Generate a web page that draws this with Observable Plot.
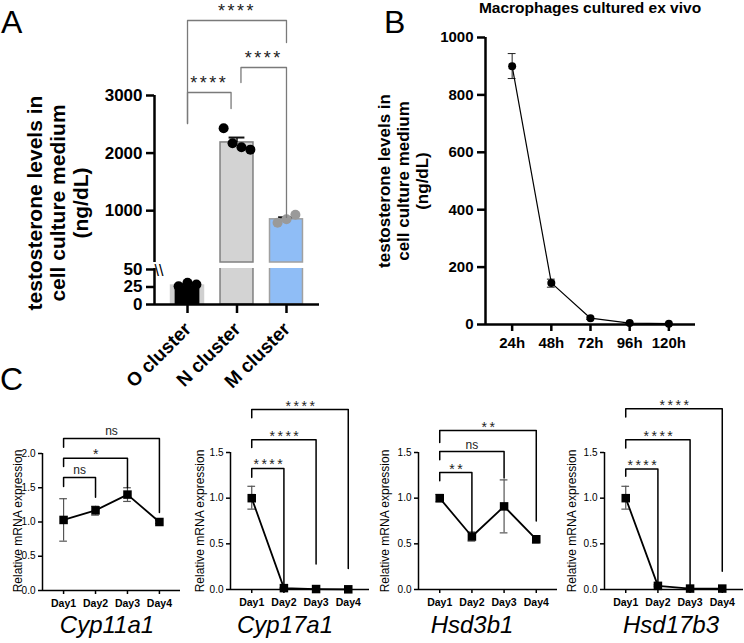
<!DOCTYPE html>
<html><head><meta charset="utf-8">
<script src="https://cdn.jsdelivr.net/npm/d3@7"></script>
<script src="https://cdn.jsdelivr.net/npm/@observablehq/plot@0.6"></script>
<style>
body{margin:0;background:#fff;}
#root{position:relative;width:744px;height:643px;overflow:hidden;background:#fff;}
#root > svg{position:absolute;}
</style></head><body><div id="root"></div>
<script>
// ---------- DATA ----------
// Panel A
const clusters = ["O cluster", "N cluster", "M cluster"];
const clusterMeans = [27, 2185, 850];
const clusterSEM = [2, 85, 35];
const oPoints = [26, 31, 28.5];
const nPoints = [2430, 2170, 2100, 2060];
const mPoints = [790, 850, 930];
const aSig = ["****", "****", "****"];
const aUpperTicks = [1000, 2000, 3000];
const aLowerTicks = [0, 25, 50];

// Panel B
const hours = ["24h", "48h", "72h", "96h", "120h"];
const macroMean = [900, 145, 22, 5, 3];
const macroLo = [857, 130, 18, 3, 2];
const macroHi = [944, 158, 26, 7, 4];
const bTicks = [0, 200, 400, 600, 800, 1000];

// Panel C
const days = ["Day1", "Day2", "Day3", "Day4"];
const genes = ["Cyp11a1", "Cyp17a1", "Hsd3b1", "Hsd17b3"];
const cyp11a1Mean = [1.03, 1.17, 1.40, 1.00];
const cyp11a1Lo = [0.72, 1.10, 1.30, 0.98];
const cyp11a1Hi = [1.34, 1.23, 1.50, 1.02];
const cyp17a1Mean = [1.00, 0.015, 0.005, 0.002];
const cyp17a1Lo = [0.88, 0.01, 0.0, 0.0];
const cyp17a1Hi = [1.13, 0.02, 0.01, 0.005];
const hsd3b1Mean = [1.00, 0.58, 0.91, 0.55];
const hsd3b1Lo = [0.96, 0.53, 0.62, 0.51];
const hsd3b1Hi = [1.04, 0.63, 1.20, 0.59];
const hsd17b3Mean = [1.00, 0.04, 0.01, 0.01];
const hsd17b3Lo = [0.88, 0.03, 0.005, 0.005];
const hsd17b3Hi = [1.13, 0.05, 0.015, 0.015];
const cyp11a1Sig = ["ns", "*", "ns"];
const cyp17a1Sig = ["****", "****", "****"];
const hsd3b1Sig = ["**", "ns", "**"];
const hsd17b3Sig = ["****", "****", "****"];

// ---------- STYLE / LAYOUT ----------
const FONT = '"Liberation Sans", Arial, Helvetica, sans-serif';
const barFill = ["#000000", "#d3d3d3", "#8fbdf6"];
const barStroke = ["#d0d0d0", "#808080", "#a0a0a0"];
const dotFill = ["#000000", "#000000", "#9a9a9a"];
const intFmt = d3.format("d");
const root = document.getElementById("root");
function place(svg, left, top) {
  svg.style.left = left + "px"; svg.style.top = top + "px";
  root.appendChild(svg);
  d3.select(svg).selectAll("text").filter(function(){ return /^\*+$/.test(this.textContent); })
    .style("letter-spacing", "2.5px");
  return svg;
}
const baseStyle = {background: "transparent", overflow: "visible", fontFamily: FONT, color: "#000"};

// ---------- PANEL A ----------
const A_xDomain = [-0.667, 2.667];
const upperDomain = [100, 3000];
const lowerDomain = [0, 51.4];
const barHalf = 0.333;
const bars = clusters.map((c, i) => ({i, v: clusterMeans[i], sem: clusterSEM[i]}));
const pts = [oPoints, nPoints, mPoints].flatMap((arr, i) =>
  arr.map((v, j) => ({i, v, x: i + (j - (arr.length - 1) / 2) * 0.18})));
// bracket layout (annotation geometry in data units of upper segment)
const aBrackets = [
  {a: 0, b: 0.88, top: 3052, left: 2514, right: 2774},
  {a: 1.08, b: 2, top: 3486, left: 3226, right: 882},
  {a: 0, b: 2, top: 4302, left: 2514, right: 3920}
];
const aBracketPts = aBrackets.flatMap((b, k) => [
  {k, x: b.a, y: b.left}, {k, x: b.a, y: b.top}, {k, x: b.b, y: b.top}, {k, x: b.b, y: b.right}]);

const upperBars = bars.filter(d => d.v > upperDomain[0]);
const upper = Plot.plot({
  width: 330, height: 262, marginLeft: 154, marginRight: 11, marginTop: 95, marginBottom: 0,
  style: baseStyle,
  x: {domain: A_xDomain, axis: null, label: null},
  y: {domain: upperDomain, label: null},
  color: {type: "identity"},
  marks: [
    Plot.rectY(upperBars, {x1: d => d.i - barHalf, x2: d => d.i + barHalf, y1: upperDomain[0], y2: "v",
      fill: d => barFill[d.i], stroke: d => barStroke[d.i], strokeWidth: 1.5}),
    Plot.ruleX(upperBars, {x: "i", y1: "v", y2: d => d.v + d.sem, stroke: "#111", strokeWidth: 1.5}),
    Plot.ruleY(upperBars, {y: d => d.v + d.sem, x1: d => d.i - 0.16, x2: d => d.i + 0.16, stroke: "#111", strokeWidth: 2}),
    Plot.dot(pts.filter(d => d.v > upperDomain[0]), {x: "x", y: "v", r: 5, fill: d => dotFill[d.i]}),
    Plot.line(aBracketPts, {x: "x", y: "y", z: "k", stroke: "#7a7a7a", strokeWidth: 1.3}),
    Plot.text(aBrackets, {x: d => (d.a + d.b) / 2, y: "top", text: (d, k) => aSig[k], lineAnchor: "bottom", dy: -4,
      fontSize: 18, fill: "#222"}),
    Plot.ruleX([A_xDomain[0]], {y1: upperDomain[0], y2: 3000, strokeWidth: 2.5}),
    Plot.axisY({ticks: aUpperTicks, tickFormat: intFmt, tickSize: 8, tickPadding: 4, fontSize: 17, fontWeight: "bold", strokeWidth: 2.5, label: null})
  ]
});
place(upper, 0, 0);

const lower = Plot.plot({
  width: 330, height: 142, marginLeft: 154, marginRight: 11, marginTop: 6, marginBottom: 100,
  style: baseStyle,
  x: {domain: A_xDomain, label: null},
  y: {domain: lowerDomain, label: null},
  color: {type: "identity"},
  marks: [
    Plot.rectY(bars, {x1: d => d.i - barHalf, x2: d => d.i + barHalf, y1: 0, y2: "v", clip: true,
      fill: d => d.i === 0 ? barStroke[0] : barFill[d.i], stroke: d => barStroke[d.i], strokeWidth: 1.5}),
    Plot.rectY(bars.filter(d => d.i === 0), {x1: d => d.i - 0.25, x2: d => d.i + 0.25, y1: 0, y2: "v", fill: barFill[0]}),
    Plot.ruleX(bars.filter(d => d.v < lowerDomain[1]), {x: "i", y1: "v", y2: d => d.v + d.sem, stroke: "#111", strokeWidth: 1.5}),
    Plot.ruleY(bars.filter(d => d.v < lowerDomain[1]), {y: d => d.v + d.sem, x1: d => d.i - 0.16, x2: d => d.i + 0.16, stroke: "#111", strokeWidth: 2}),
    Plot.dot(pts.filter(d => d.v < lowerDomain[1]), {x: "x", y: "v", r: 5, fill: d => dotFill[d.i]}),
    Plot.ruleX([A_xDomain[0]], {y1: 0, y2: lowerDomain[1], strokeWidth: 2.5}),
    Plot.ruleY([0], {strokeWidth: 2.5}),
    Plot.text(["\\\\"], {text: d => d, frameAnchor: "top-left", dx: 0, dy: -4, fontSize: 16, fill: "#000"}),
    Plot.axisY({ticks: aLowerTicks, tickFormat: intFmt, tickSize: 8, tickPadding: 4, fontSize: 17, fontWeight: "bold", strokeWidth: 2.5, label: null}),
    Plot.axisX({ticks: [0, 1, 2], tickFormat: () => "", tickSize: 9, strokeWidth: 2.5, label: null})
  ]
});
place(lower, 0, 262);

// ---------- PANEL B ----------
const B_xDomain = [-0.68, 4.68];
const macro = hours.map((h, i) => ({i, m: macroMean[i], lo: macroLo[i], hi: macroHi[i]}));
const bPlot = Plot.plot({
  width: 325, height: 364, marginLeft: 105, marginRight: 10, marginTop: 37, marginBottom: 40,
  style: baseStyle,
  x: {domain: B_xDomain, label: null},
  y: {domain: [0, 1000], label: null},
  marks: [
    Plot.ruleX(macro, {x: "i", y1: "lo", y2: "hi", stroke: "#222", strokeWidth: 1}),
    Plot.ruleY(macro, {y: "lo", x1: d => d.i - 0.1, x2: d => d.i + 0.1, stroke: "#222", strokeWidth: 1}),
    Plot.ruleY(macro, {y: "hi", x1: d => d.i - 0.1, x2: d => d.i + 0.1, stroke: "#222", strokeWidth: 1}),
    Plot.line(macro, {x: "i", y: "m", stroke: "#000", strokeWidth: 1.2}),
    Plot.dot(macro, {x: "i", y: "m", r: 4, fill: "#000"}),
    Plot.ruleX([B_xDomain[0]], {y1: 0, y2: 1000, strokeWidth: 2.5}),
    Plot.ruleY([0], {strokeWidth: 2.5}),
    Plot.axisY({ticks: bTicks, tickFormat: intFmt, tickSize: 8, tickPadding: 4, fontSize: 15, fontWeight: "bold", strokeWidth: 2.5, label: null}),
    Plot.axisX({ticks: d3.range(hours.length), tickFormat: i => hours[i], tickSize: 7, tickPadding: 6,
      fontSize: 15, fontWeight: "bold", strokeWidth: 2.5, label: null})
  ]
});
place(bPlot, 380, 0);

// ---------- PANEL C ----------
const geneData = [
  {mean: cyp11a1Mean, lo: cyp11a1Lo, hi: cyp11a1Hi, sig: cyp11a1Sig},
  {mean: cyp17a1Mean, lo: cyp17a1Lo, hi: cyp17a1Hi, sig: cyp17a1Sig},
  {mean: hsd3b1Mean, lo: hsd3b1Lo, hi: hsd3b1Hi, sig: hsd3b1Sig},
  {mean: hsd17b3Mean, lo: hsd17b3Lo, hi: hsd17b3Hi, sig: hsd17b3Sig}
];
// annotation geometry (bracket top / left leg end / right leg end, in y units)
const cBrackets = [
  [{top: 1.65, left: 1.52, right: 1.36}, {top: 1.93, left: 1.81, right: 1.50}, {top: 2.22, left: 2.09, right: 1.14}],
  [{top: 1.325, left: 1.23, right: 0.02}, {top: 1.64, left: 1.555, right: 0.28}, {top: 1.97, left: 1.88, right: 0.23}],
  [{top: 1.28, left: 1.19, right: 0.62}, {top: 1.51, left: 1.42, right: 1.22}, {top: 1.74, left: 1.61, right: 0.75}],
  [{top: 1.32, left: 1.24, right: 0.02}, {top: 1.64, left: 1.55, right: 0.02}, {top: 1.98, left: 1.89, right: 0.20}]
];
const cLayout = [
  {left: 0, width: 185, ml: 42, mr: 5, mt: 73, mb: 53, ymax: 2.0, ticks: [0, 0.5, 1, 1.5, 2]},
  {left: 185, width: 189, ml: 45, mr: 5, mt: 72, mb: 54, ymax: 1.5, ticks: [0, 0.5, 1, 1.5]},
  {left: 370, width: 192, ml: 48, mr: 5, mt: 72, mb: 54, ymax: 1.5, ticks: [0, 0.5, 1, 1.5]},
  {left: 555, width: 189, ml: 49, mr: 1, mt: 72, mb: 54, ymax: 1.5, ticks: [0, 0.5, 1, 1.5]}
];
const C_xDomain = [-0.66, 3.66];
genes.forEach((g, gi) => {
  const gd = geneData[gi], L = cLayout[gi];
  const rows = days.map((d, i) => ({i, m: gd.mean[i], lo: gd.lo[i], hi: gd.hi[i]}));
  const br = cBrackets[gi].map((b, k) => ({...b, a: 0, b: k + 1, label: gd.sig[k]}));
  const brPts = br.flatMap((b, k) => [
    {k, x: b.a, y: b.left}, {k, x: b.a, y: b.top}, {k, x: b.b, y: b.top}, {k, x: b.b, y: b.right}]);
  const p = Plot.plot({
    width: L.width, height: 263, marginLeft: L.ml, marginRight: L.mr, marginTop: L.mt, marginBottom: L.mb,
    style: baseStyle,
    x: {domain: C_xDomain, label: null},
    y: {domain: [0, L.ymax], label: null},
    marks: [
      Plot.ruleX(rows, {x: "i", y1: "lo", y2: "hi", stroke: "#555", strokeWidth: 1.2}),
      Plot.ruleY(rows, {y: "lo", x1: d => d.i - 0.12, x2: d => d.i + 0.12, stroke: "#555", strokeWidth: 1.2}),
      Plot.ruleY(rows, {y: "hi", x1: d => d.i - 0.12, x2: d => d.i + 0.12, stroke: "#555", strokeWidth: 1.2}),
      Plot.line(rows, {x: "i", y: "m", stroke: "#000", strokeWidth: 1.8}),
      Plot.dot(rows, {x: "i", y: "m", r: 4.8, symbol: "square", fill: "#000"}),
      Plot.line(brPts, {x: "x", y: "y", z: "k", stroke: "#000", strokeWidth: 1.5}),
      Plot.text(br, {x: d => (d.a + d.b) / 2, y: "top", text: "label", lineAnchor: "bottom",
        fontSize: 12, fill: "#222"}),
      Plot.ruleX([C_xDomain[0]], {y1: 0, y2: L.ymax, strokeWidth: 1.5}),
      Plot.ruleY([0], {strokeWidth: 1.5}),
      Plot.axisY({ticks: L.ticks, tickFormat: d3.format(".1f"), tickSize: 4, tickPadding: 3, fontSize: 10, strokeWidth: 1.5, label: null}),
      Plot.axisX({ticks: d3.range(days.length), tickFormat: i => days[i], tickSize: 4, tickPadding: 5,
        fontSize: 10.5, fontWeight: "bold", strokeWidth: 1.5, label: null})
    ]
  });
  place(p, L.left, 380);
  d3.select(p).selectAll("text").each(function() {
    const t = this.textContent;
    if (/^\*+$/.test(t)) { this.style.fontSize = "14px"; this.setAttribute("transform", (this.getAttribute("transform") || "") + " translate(1.5,1)"); }
    else if (t === "ns") { this.setAttribute("transform", (this.getAttribute("transform") || "") + " translate(0,-3)"); }
  });
});

// ---------- FREE LABELS (overlay) ----------
const ov = d3.select(root).append("svg").attr("width", 744).attr("height", 643)
  .style("left", "0px").style("top", "0px").style("pointer-events", "none")
  .style("font-family", FONT);
// category tick labels of panel A, positioned with Plot's x scale, rotated 45°
const ax = lower.scale("x");
const axisYpx = 262 + lower.scale("y").apply(0);
clusters.forEach((c, i) => ov.append("text")
  .attr("transform", `translate(${ax.apply(i) + 1},${axisYpx + 22}) rotate(-45)`)
  .attr("text-anchor", "end").attr("dy", "0.32em").attr("font-size", 19).attr("font-weight", "bold").text(c));
const letter = (t, x, y) => ov.append("text").attr("x", x).attr("y", y).attr("font-size", 32).text(t);
letter("A", 1, 33); letter("B", 384, 33); letter("C", 0, 390);
ov.append("text").attr("x", 590).attr("y", 13).attr("text-anchor", "middle").attr("font-size", 15.5)
  .attr("font-weight", "bold").text("Macrophages cultured ex vivo");
const yTitle = ["testosterone levels in", "cell culture medium", "(ng/dL)"];
function rotLines(lines, xs, cy, size, weight) {
  lines.forEach((l, k) => ov.append("text").attr("transform", `translate(${xs[k]},${cy}) rotate(-90)`)
    .attr("text-anchor", "middle").attr("font-size", size).attr("font-weight", weight).text(l));
}
rotLines(yTitle, [42, 65, 88], 203, 21, "bold");
rotLines(yTitle, [390, 409, 428], 181, 17, "bold");
[22, 204, 389, 576].forEach(x => rotLines(["Relative mRNA expression"], [x], 521, 12, "normal"));
[107, 285, 472, 671].forEach((x, k) => ov.append("text").attr("x", x).attr("y", 633).attr("text-anchor", "middle")
  .attr("font-size", 24).attr("font-style", "italic").text(genes[k]));
</script></body></html>
